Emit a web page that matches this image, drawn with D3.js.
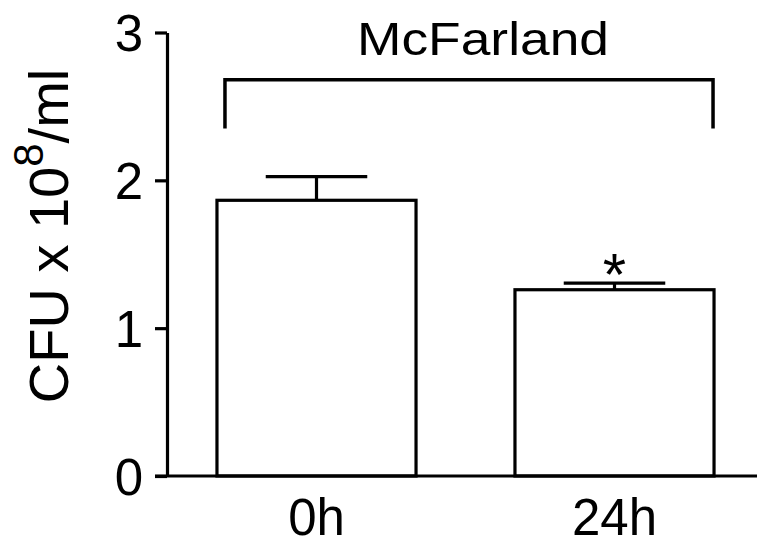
<!DOCTYPE html>
<html>
<head>
<meta charset="utf-8">
<script src="https://cdn.jsdelivr.net/npm/d3@7"></script>
<style>
  body { margin: 0; background: #fff; }
  svg { display: block; font-family: "Liberation Sans", Arial, sans-serif; }
</style>
</head>
<body>
<div id="chart"></div>
<script>
const groups = ['0h', '24h'];
const means = [1.865, 1.26];
const errors = [0.16, 0.045];
const yTicks = [0, 1, 2, 3];
const signif = ['', '*'];
const bracketLabel = 'McFarland';

const width = 758, height = 547;

const svg = d3.select('#chart').append('svg')
  .attr('width', width)
  .attr('height', height);

const x = d3.scaleBand()
  .domain(groups)
  .range([167.5, 763.5])
  .paddingInner(0.332)
  .paddingOuter(0.166);

const y = d3.scaleLinear()
  .domain([0, 3])
  .range([476, 32.5]);

const ink = '#000';

// bars
svg.append('g')
  .selectAll('rect')
  .data(groups)
  .join('rect')
    .attr('x', d => x(d))
    .attr('y', (d, i) => y(means[i]))
    .attr('width', x.bandwidth())
    .attr('height', (d, i) => y(0) - y(means[i]))
    .attr('fill', '#fff')
    .attr('stroke', ink)
    .attr('stroke-width', 3.2);

// error bars (upper only)
const err = svg.append('g')
  .attr('stroke', ink)
  .attr('stroke-width', 3.2);

groups.forEach((g, i) => {
  const cx = x(g) + x.bandwidth() / 2;
  const capW = x.bandwidth() * 0.51;
  err.append('line')
    .attr('x1', cx).attr('x2', cx)
    .attr('y1', y(means[i])).attr('y2', y(means[i] + errors[i]));
  err.append('line')
    .attr('x1', cx - capW / 2).attr('x2', cx + capW / 2)
    .attr('y1', y(means[i] + errors[i])).attr('y2', y(means[i] + errors[i]));
  if (signif[i]) {
    svg.append('text')
      .attr('x', cx)
      .attr('y', y(means[i] + errors[i]) + 12)
      .attr('text-anchor', 'middle')
      .style('font-size', '60px')
      .text(signif[i]);
  }
});

// y axis
const yAxis = svg.append('g')
  .attr('transform', 'translate(167,0)')
  .call(d3.axisLeft(y).tickValues(yTicks).tickFormat(d3.format('d'))
    .tickSize(12).tickSizeOuter(0).tickPadding(12));

yAxis.select('.domain').attr('stroke-width', 3.2).attr('stroke', ink);
yAxis.selectAll('.tick line').attr('stroke-width', 3.2).attr('stroke', ink);
yAxis.selectAll('.tick text')
  .style('font-size', '51px')
  .style('font-family', '"Liberation Sans", Arial, sans-serif')
  .attr('fill', ink)
  .attr('dy', '0.36em');

// x baseline
svg.append('line')
  .attr('x1', 155).attr('x2', 757)
  .attr('y1', y(0)).attr('y2', y(0))
  .attr('stroke', ink)
  .attr('stroke-width', 3.2);

// x labels
svg.append('g')
  .selectAll('text')
  .data(groups)
  .join('text')
    .attr('x', d => x(d) + x.bandwidth() / 2)
    .attr('y', y(0) + 59)
    .attr('text-anchor', 'middle')
    .style('font-size', '51px')
    .text(d => d);

// bracket
const bx1 = x(groups[0]) + 8, bx2 = x(groups[1]) + x.bandwidth() - 1;
const bTop = y(2.68), bBot = y(2.35);
svg.append('path')
  .attr('d', `M${bx1},${bBot}V${bTop}H${bx2}V${bBot}`)
  .attr('fill', 'none')
  .attr('stroke', ink)
  .attr('stroke-width', 3.5);

svg.append('text')
  .attr('x', 483)
  .attr('y', 55)
  .attr('text-anchor', 'middle')
  .attr('textLength', 252)
  .attr('lengthAdjust', 'spacingAndGlyphs')
  .style('font-size', '47px')
  .text(bracketLabel);

// y label
const yl = svg.append('text')
  .attr('transform', 'translate(68,236) rotate(-90)')
  .attr('text-anchor', 'middle')
  .style('font-size', '56px');
yl.append('tspan').text('CFU x 10');
yl.append('tspan').attr('dy', -25).style('font-size', '42px').text('8');
yl.append('tspan').attr('dy', 25).text('/ml');
</script>
</body>
</html>
